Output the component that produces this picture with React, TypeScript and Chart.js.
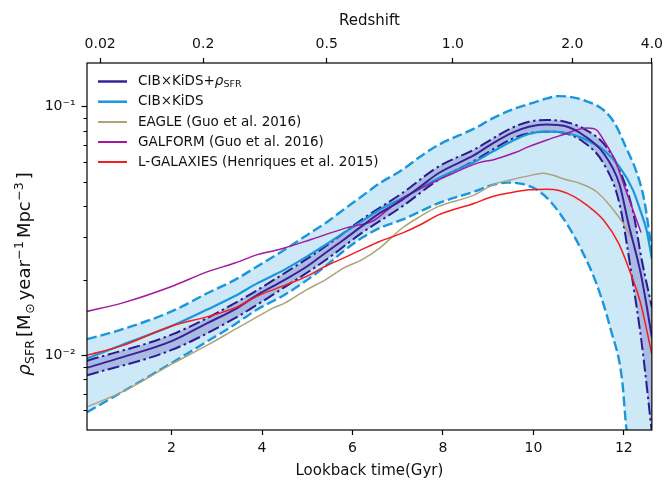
import React, { useEffect, useRef } from 'react';
import { Chart, registerables } from 'chart.js';

Chart.register(...registerables);

const FONT = "'DejaVu Sans', sans-serif";
const TXT = '#111';

// ---------- data (lookback time in Gyr, SFR density in Msun/yr/Mpc^3) ----------
const kidsUpperT = [0.13, 0.9, 2.0, 2.8, 3.4, 3.9, 4.5, 5.0, 5.4, 5.8, 6.2, 6.6, 7.1, 7.5, 7.9, 8.7, 9.1, 9.5, 9.9, 10.3, 10.55, 10.8, 11.1, 11.55, 11.8, 12.04, 12.29, 12.45, 12.62];
const kidsUpperV = [0.0116, 0.0127, 0.0150, 0.0178, 0.0201, 0.0228, 0.0266, 0.0305, 0.0340, 0.0385, 0.0435, 0.0492, 0.0557, 0.0630, 0.0702, 0.0818, 0.0898, 0.0970, 0.1025, 0.1080, 0.1104, 0.1097, 0.1064, 0.0970, 0.0857, 0.0691, 0.0540, 0.0422, 0.0263];

const kidsLowerT = [0.13, 0.9, 2.0, 2.8, 3.4, 3.9, 4.5, 5.0, 5.4, 5.8, 6.2, 6.6, 7.1, 7.5, 7.9, 8.7, 9.1, 9.42, 9.75, 10.08, 10.41, 10.73, 11.06, 11.39, 11.71, 11.96, 12.06, 12.3, 12.62];
const kidsLowerV = [0.0059, 0.0071, 0.0093, 0.0114, 0.0133, 0.0153, 0.0175, 0.0201, 0.0228, 0.0262, 0.0296, 0.0325, 0.0351, 0.0379, 0.0409, 0.0456, 0.0485, 0.0495, 0.0489, 0.0463, 0.0409, 0.0340, 0.0266, 0.0195, 0.0127, 0.0080, 0.0050, 0.0030, 0.0020];

const kidsT = [0.13, 0.9, 2.0, 2.8, 3.4, 3.9, 4.5, 5.0, 5.4, 5.8, 6.2, 6.6, 7.1, 7.5, 7.9, 8.7, 9.1, 9.5, 9.9, 10.3, 10.7, 11.1, 11.55, 11.9, 12.2, 12.37, 12.5, 12.62];
const kidsV = [0.0097, 0.0110, 0.0131, 0.0153, 0.0173, 0.0195, 0.0221, 0.0250, 0.0278, 0.0310, 0.0345, 0.0385, 0.0428, 0.0470, 0.0516, 0.0601, 0.0660, 0.0723, 0.0777, 0.0794, 0.0786, 0.0746, 0.0670, 0.0574, 0.0463, 0.0380, 0.0320, 0.0245];

const combT = [0.13, 0.9, 2.0, 2.8, 3.4, 3.9, 4.5, 5.0, 5.4, 5.8, 6.2, 6.6, 7.1, 7.5, 7.9, 8.7, 9.1, 9.5, 9.9, 10.3, 10.7, 11.1, 11.55, 11.9, 12.1, 12.37, 12.5, 12.62];
const combV = [0.0089, 0.0098, 0.0114, 0.0135, 0.0153, 0.0175, 0.0201, 0.0228, 0.0258, 0.0291, 0.0330, 0.0373, 0.0422, 0.0477, 0.0540, 0.0640, 0.0712, 0.0782, 0.0831, 0.0849, 0.0836, 0.0770, 0.0650, 0.0490, 0.0340, 0.0215, 0.0160, 0.0118];

const combUpperT = [0.13, 2.0, 3.4, 4.5, 5.4, 6.2, 7.1, 7.9, 8.7, 9.5, 9.9, 10.3, 10.7, 11.1, 11.55, 11.9, 12.2, 12.4, 12.62];
const combUpperV = [0.0095, 0.0121, 0.0162, 0.0214, 0.0274, 0.0351, 0.0449, 0.0574, 0.0674, 0.0818, 0.0871, 0.0884, 0.0871, 0.0818, 0.0712, 0.0560, 0.0380, 0.0240, 0.0156];

const combLowerT = [0.13, 2.0, 3.4, 4.5, 5.4, 6.2, 7.1, 7.9, 8.7, 9.5, 9.9, 10.3, 10.7, 11.1, 11.55, 11.9, 12.17, 12.4, 12.62];
const combLowerV = [0.0083, 0.0105, 0.0141, 0.0188, 0.0241, 0.0310, 0.0397, 0.0508, 0.0607, 0.0739, 0.0782, 0.0794, 0.0782, 0.0723, 0.0592, 0.0410, 0.0212, 0.0110, 0.0049];

const eagleT = [0.13, 0.9, 2.0, 2.8, 3.4, 3.9, 4.25, 4.5, 5.0, 5.4, 5.8, 6.2, 6.6, 7.1, 7.5, 7.9, 8.7, 9.1, 9.5, 9.9, 10.2, 10.4, 10.73, 10.98, 11.39, 11.71, 11.96, 12.17];
const eagleV = [0.0062, 0.0071, 0.0092, 0.0110, 0.0127, 0.0143, 0.0155, 0.0162, 0.0184, 0.0201, 0.0224, 0.0242, 0.0270, 0.0325, 0.0362, 0.0397, 0.0442, 0.0485, 0.0508, 0.0527, 0.0540, 0.0532, 0.0508, 0.0495, 0.0456, 0.0397, 0.0345, 0.0298];

const galformT = [0.13, 0.9, 2.0, 2.8, 3.4, 3.9, 4.4, 5.1, 5.9, 6.45, 6.75, 7.1, 7.5, 8.1, 8.8, 9.1, 9.6, 9.9, 10.3, 10.7, 11.0, 11.2, 11.4, 11.55, 11.8, 12.04, 12.2, 12.38];
const galformV = [0.0150, 0.0162, 0.0189, 0.0217, 0.0235, 0.0254, 0.0267, 0.0293, 0.0327, 0.0347, 0.0381, 0.0428, 0.0468, 0.0527, 0.0596, 0.0611, 0.0654, 0.0691, 0.0735, 0.0777, 0.0811, 0.0821, 0.0806, 0.0735, 0.0611, 0.0463, 0.0385, 0.0312];

const lgalT = [0.13, 0.9, 2.0, 2.8, 3.4, 3.9, 4.5, 5.0, 5.4, 5.8, 6.2, 6.6, 7.1, 7.5, 7.9, 8.7, 9.1, 9.5, 9.9, 10.3, 10.57, 10.9, 11.22, 11.55, 11.88, 12.12, 12.37, 12.62];
const lgalV = [0.0100, 0.0109, 0.0131, 0.0143, 0.0155, 0.0173, 0.0191, 0.0208, 0.0228, 0.0246, 0.0266, 0.0287, 0.0310, 0.0335, 0.0367, 0.0409, 0.0435, 0.0451, 0.0463, 0.0466, 0.0460, 0.0435, 0.0397, 0.0350, 0.0283, 0.0221, 0.0162, 0.0101];

// axes
const xMin = 0.13;
const xMax = 12.62;
const yMin = 0.005;
const yMax = 0.15;
const xTickValues = [2, 4, 6, 8, 10, 12];
const redshiftTickPositions = [0.42, 2.7, 5.43, 8.22, 10.86, 12.62];
const redshiftTickLabels = ['0.02', '0.2', '0.5', '1.0', '2.0', '4.0'];
const yMajorTicks = [0.01, 0.1];
const yMajorLabels = ['10⁻²', '10⁻¹'];
const yMinorTicks = [0.006, 0.007, 0.008, 0.009, 0.02, 0.03, 0.04, 0.05, 0.06, 0.07, 0.08, 0.09];

// labels
const labelComb = 'CIB×KiDS+ρ';
const labelCombSub = 'SFR';
const labelKids = 'CIB×KiDS';
const labelEagle = 'EAGLE (Guo et al. 2016)';
const labelGalform = 'GALFORM (Guo et al. 2016)';
const labelLgal = 'L-GALAXIES (Henriques et al. 2015)';

// colours
const C_COMB = '#3a2195';
const C_COMB_DD = '#2c1a90';
const C_BAND = '#a9bbe3';
const C_KIDS = '#1a96dc';
const C_KIDS_FILL = '#cde8f6';
const C_EAGLE = '#aea27a';
const C_GALFORM = '#a3199f';
const C_LGAL = '#f41c1c';

const pts = (t: number[], v: number[]) => t.map((x, i) => ({ x, y: v[i] }));

const overlayPlugin = {
  id: 'overlay',
  afterDraw(chart: any) {
    const ctx: CanvasRenderingContext2D = chart.ctx;
    const { left, right, top, bottom } = chart.chartArea;
    const ys = chart.scales.y;
    ctx.save();
    // minor y ticks
    ctx.strokeStyle = '#000';
    ctx.lineWidth = 1;
    yMinorTicks.forEach((v) => {
      const y = Math.round(ys.getPixelForValue(v)) + 0.5;
      ctx.beginPath();
      ctx.moveTo(left - 3.5, y);
      ctx.lineTo(left, y);
      ctx.stroke();
    });
    // frame
    ctx.lineWidth = 1.2;
    ctx.strokeRect(left, top, right - left, bottom - top);

    // legend
    const items = [
      { label: labelComb, sub: labelCombSub, color: C_COMB, w: 2.5 },
      { label: labelKids, sub: '', color: C_KIDS, w: 2.5 },
      { label: labelEagle, sub: '', color: C_EAGLE, w: 2 },
      { label: labelGalform, sub: '', color: C_GALFORM, w: 2 },
      { label: labelLgal, sub: '', color: C_LGAL, w: 2 },
    ];
    const rowY = [81.5, 101.7, 122, 142, 162];
    ctx.textBaseline = 'middle';
    ctx.textAlign = 'left';
    items.forEach((it, i) => {
      const y = rowY[i];
      ctx.strokeStyle = it.color;
      ctx.lineWidth = it.w;
      ctx.beginPath();
      ctx.moveTo(98, y);
      ctx.lineTo(127, y);
      ctx.stroke();
      ctx.fillStyle = TXT;
      if (it.sub) {
        const main = it.label.slice(0, -1);
        ctx.font = `13.5px ${FONT}`;
        ctx.fillText(main, 138, y);
        let x = 138 + ctx.measureText(main).width;
        ctx.font = `italic 13.5px ${FONT}`;
        ctx.fillText('ρ', x, y);
        x += ctx.measureText('ρ').width;
        ctx.font = `9.5px ${FONT}`;
        ctx.fillText(it.sub, x, y + 3.5);
      } else {
        ctx.font = `13.5px ${FONT}`;
        ctx.fillText(it.label, 138, y);
      }
    });

    // y axis title with sub/superscripts
    const big = 18;
    const small = 12.6;
    const segs = [
      { t: 'ρ', s: big, dy: 0, it: true, gap: 0.5 },
      { t: 'SFR', s: small, dy: 4.2, it: false, gap: 3 },
      { t: '[M', s: big, dy: 0, it: false, gap: 0.5 },
      { t: '⊙', s: small, dy: 4.2, it: false, gap: 3 },
      { t: 'year', s: big, dy: 0, it: false, gap: 0.5 },
      { t: '−1', s: small, dy: -7, it: false, gap: 3 },
      { t: 'Mpc', s: big, dy: 0, it: false, gap: 0.5 },
      { t: '−3', s: small, dy: -7, it: false, gap: 3 },
      { t: ']', s: big, dy: 0, it: false, gap: 0 },
    ];
    let total = 0;
    segs.forEach((sg) => {
      ctx.font = `${sg.it ? 'italic ' : ''}${sg.s}px ${FONT}`;
      total += ctx.measureText(sg.t).width + sg.gap;
    });
    ctx.translate(30, 274);
    ctx.rotate(-Math.PI / 2);
    ctx.fillStyle = TXT;
    ctx.textBaseline = 'alphabetic';
    let x = -total / 2;
    segs.forEach((sg) => {
      ctx.font = `${sg.it ? 'italic ' : ''}${sg.s}px ${FONT}`;
      ctx.fillText(sg.t, x, sg.dy);
      x += ctx.measureText(sg.t).width + sg.gap;
    });
    ctx.restore();
  },
};

export default function App() {
  const ref = useRef<HTMLCanvasElement | null>(null);
  useEffect(() => {
    if (!ref.current) return;
    const common = { pointRadius: 0, pointHoverRadius: 0, cubicInterpolationMode: 'monotone' as const };
    const chart = new Chart(ref.current, {
      type: 'line',
      data: {
        datasets: [
          { label: 'kidsUpper', data: pts(kidsUpperT, kidsUpperV), borderColor: C_KIDS, borderWidth: 2.4, borderDash: [10, 4], fill: 1, backgroundColor: C_KIDS_FILL, order: 10, ...common },
          { label: 'kidsLower', data: pts(kidsLowerT, kidsLowerV), borderColor: C_KIDS, borderWidth: 2.4, borderDash: [10, 4], fill: false, order: 9, ...common },
          { label: 'combUpper', data: pts(combUpperT, combUpperV), borderColor: C_COMB_DD, borderWidth: 2, borderDash: [12, 3.5, 2.5, 3.5], fill: 3, backgroundColor: C_BAND, order: 8, ...common },
          { label: 'combLower', data: pts(combLowerT, combLowerV), borderColor: C_COMB_DD, borderWidth: 2, borderDash: [12, 3.5, 2.5, 3.5], fill: false, order: 7, ...common },
          { label: labelKids, data: pts(kidsT, kidsV), borderColor: C_KIDS, borderWidth: 2.2, fill: false, order: 6, ...common },
          { label: labelEagle, data: pts(eagleT, eagleV), borderColor: C_EAGLE, borderWidth: 1.5, fill: false, order: 5, ...common },
          { label: labelGalform, data: pts(galformT, galformV), borderColor: C_GALFORM, borderWidth: 1.5, fill: false, order: 4, ...common },
          { label: labelComb + labelCombSub, data: pts(combT, combV), borderColor: C_COMB, borderWidth: 2, fill: false, order: 3, ...common },
          { label: labelLgal, data: pts(lgalT, lgalV), borderColor: C_LGAL, borderWidth: 1.5, fill: false, order: 2, ...common },
        ],
      },
      options: {
        animation: false,
        responsive: false,
        devicePixelRatio: 1,
        events: [],
        layout: { padding: { left: 0, right: 16, top: 0, bottom: 0 } },
        plugins: { legend: { display: false }, tooltip: { enabled: false }, title: { display: false } },
        scales: {
          x: {
            type: 'linear',
            position: 'bottom',
            min: xMin,
            max: xMax,
            afterBuildTicks: (s: any) => { s.ticks = xTickValues.map((v) => ({ value: v })); },
            afterFit: (s: any) => { s.height = 51; },
            ticks: { color: TXT, font: { family: FONT, size: 14 }, padding: 5, maxRotation: 0, autoSkip: false, callback: (v: any) => String(v) },
            grid: { display: true, drawOnChartArea: false, drawTicks: true, tickLength: 5, tickColor: '#000', tickWidth: 1.2 },
            border: { display: false },
            title: { display: true, text: 'Lookback time(Gyr)', color: TXT, font: { family: FONT, size: 15 }, padding: { top: 0, bottom: 1 } },
          },
          x2: {
            type: 'linear',
            position: 'top',
            min: xMin,
            max: xMax,
            afterBuildTicks: (s: any) => { s.ticks = redshiftTickPositions.map((v) => ({ value: v })); },
            afterFit: (s: any) => { s.height = 63; },
            ticks: { color: TXT, font: { family: FONT, size: 14 }, padding: 5, maxRotation: 0, autoSkip: false, callback: (_v: any, i: number) => redshiftTickLabels[i] },
            grid: { display: true, drawOnChartArea: false, drawTicks: true, tickLength: 5, tickColor: '#000', tickWidth: 1.2 },
            border: { display: false },
            title: { display: true, text: 'Redshift', color: TXT, font: { family: FONT, size: 15 }, padding: { top: 12, bottom: 0 } },
          },
          y: {
            type: 'logarithmic',
            min: yMin,
            max: yMax,
            afterBuildTicks: (s: any) => { s.ticks = yMajorTicks.map((v) => ({ value: v })); },
            afterFit: (s: any) => { s.width = 87; },
            ticks: { color: TXT, font: { family: FONT, size: 14 }, padding: 6, autoSkip: false, callback: (_v: any, i: number) => yMajorLabels[i] },
            grid: { display: true, drawOnChartArea: false, drawTicks: true, tickLength: 5.5, tickColor: '#000', tickWidth: 1.2 },
            border: { display: false },
          },
        },
      },
      plugins: [overlayPlugin],
    } as any);
    return () => chart.destroy();
  }, []);
  return (
    <div style={{ position: 'absolute', left: 0, top: 0, width: 668, height: 481, background: '#fff' }}>
      <canvas ref={ref} width={668} height={481} style={{ width: 668, height: 481, display: 'block' }} />
    </div>
  );
}
